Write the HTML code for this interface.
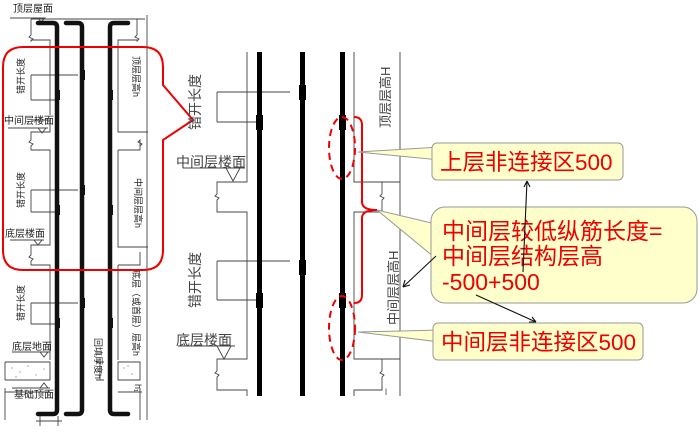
<!DOCTYPE html>
<html><head><meta charset="utf-8"><style>
html,body{margin:0;padding:0;background:#fff;}
svg{display:block;}
text{font-family:"Liberation Sans","Noto Sans CJK SC",sans-serif;}
</style></head><body>
<svg width="700" height="432" viewBox="0 0 700 432" xmlns="http://www.w3.org/2000/svg">
<g fill="none" stroke="#444" stroke-width="0.9">
  <path d="M31 19 H145"/>
  <path d="M31 19 V35 l-2 2 l4 2 l-2 2 V40 H50 V115"/>
  <path d="M137 19 V35 l-2 2 l4 2 l-2 2 V40 H118 V132 H148"/>
  <path d="M31 120 H50 V132 H31 V140 l-2 2 l4 2 l-2 2 V150 H50 V245 H31 V255 l-2 2 l4 2 l-2 2 V265 H50 V360"/>
  <path d="M118 150 H140 V140 l-2 2 l4 2 l-2 2 M118 150 V247 H148 M118 265 V360"/>
  <path d="M118 265 H140 V252"/>
  <path d="M147 15 V420"/>
  <path d="M31 75 V100 M31 75 H78 M31 100 H55"/>
  <path d="M31 190 V212 M31 190 H78 M31 212 H55"/>
  <path d="M31 303 V324 M31 303 H78 M31 324 H55"/>
  <path d="M5 362 H50 V380 H5 M5 362 V380"/>
  <path d="M118 362 H140 V380 H118 Z"/>
  <path d="M100 362 V380 M96 362 H104 M96 380 H104"/>
  <path d="M5 388 V420 M5 392 H50 M140 388 V420 M118 392 H142"/>
  <path d="M36 421 H62 M40 416 V426 M58 416 V426"/>
  <path d="M10 18 H45 L41 22 L38 18 M8 128 H48 M10 240 H44 M12 352 H50 M12 388 H50"/>
  <path d="M38 128 l4 5 l4 -5 M34 240 l4 5 l4 -5 M40 352 l4 5 l4 -5 M40 388 l4 -5 l4 5"/>
  <path d="M247 52 V182 H217 V194 l-2 2 l4 2 l-2 2 V212 H247 V359 H217 V371 l-2 2 l4 2 l-2 2 V390 H247 V396"/>
  <path d="M354 52 V182 H400 M382 182 V194 l-2 2 l4 2 l-2 2 V212 H354 V359 H400 M382 359 V371 l-2 2 l4 2 l-2 2 V390 H354 V396"/>
  <path d="M400 52 V396"/>
  <path d="M217 92 V122 M217 92 H290 M217 122 H259"/>
  <path d="M217 261 V300 M217 261 H290 M217 300 H259"/>
  <path d="M183 168 H245 M226 168 l7 13 l7 -13"/>
  <path d="M178 346 H235 M217 346 l7 13 l7 -13"/>
</g>
<g fill="#777">
  <circle cx="12" cy="368" r="0.6"/><circle cx="20" cy="372" r="0.6"/><circle cx="28" cy="366" r="0.6"/><circle cx="36" cy="375" r="0.6"/><circle cx="44" cy="369" r="0.6"/><circle cx="16" cy="377" r="0.6"/>
  <circle cx="124" cy="368" r="0.6"/><circle cx="132" cy="374" r="0.6"/><circle cx="128" cy="366" r="0.6"/>
</g>
<g fill="none" stroke="#111" stroke-width="4.5" stroke-linecap="round">
  <path d="M38 23 H53 Q57 23 57 27 V410 Q57 414 53 414 H38"/>
  <path d="M66 23 H78 Q82 23 82 27 V410 Q82 414 78 414 H66"/>
  <path d="M128 23 H114 Q110 23 110 27 V410 Q110 414 114 414 H128"/>
</g>
<g fill="#111">
  <rect x="55" y="90" width="5" height="10"/><rect x="80" y="70" width="5" height="10"/><rect x="108" y="90" width="5" height="10"/>
  <rect x="55" y="205" width="5" height="10"/><rect x="80" y="185" width="5" height="10"/><rect x="108" y="205" width="5" height="10"/>
  <rect x="55" y="318" width="5" height="10"/><rect x="80" y="298" width="5" height="10"/><rect x="108" y="318" width="5" height="10"/>
</g>
<g font-size="10" fill="#222">
  <text x="13" y="12">顶层屋面</text>
  <text x="4" y="124">中间层楼面</text>
  <text x="5" y="237">底层楼面</text>
  <text x="12" y="350">底层地面</text>
  <text x="14" y="398">基础顶面</text>
</g>
<g font-size="9" fill="#222">
  <text transform="translate(24,94) rotate(-90)">错开长度</text>
  <text transform="translate(24,208) rotate(-90)">错开长度</text>
  <text transform="translate(24,321) rotate(-90)">错开长度</text>
  <text transform="translate(133,56) rotate(90)">顶层层高h</text>
  <text transform="translate(135,178) rotate(90)">中间层层高h</text>
  <text transform="translate(133,270) rotate(90)">底层（或首层）层高h</text>
  <text transform="translate(95,338) rotate(90)">回填厚度h</text>
  <text transform="translate(135,384) rotate(90)">h₁</text>
</g>
<path d="M23 47 H143 Q163 47 163 67 V85 L193 120 L163 140 V250 Q163 270 143 270 H23 Q3 270 3 250 V67 Q3 47 23 47 Z" fill="none" stroke="#e00" stroke-width="2"/>
<g fill="#000">
  <rect x="257" y="52" width="5" height="344"/>
  <rect x="300" y="52" width="5" height="344"/>
  <rect x="340" y="52" width="5" height="344"/>
  <rect x="256" y="115" width="7" height="15"/><rect x="299" y="85" width="7" height="15"/><rect x="339" y="115" width="7" height="15"/>
  <rect x="256" y="293" width="7" height="15"/><rect x="299" y="260" width="7" height="15"/><rect x="339" y="293" width="7" height="15"/>
</g>
<g fill="#444">
  <text font-size="14" transform="translate(200,130) rotate(-90)" font-family="Liberation Serif,Noto Serif CJK SC,serif">错开长度</text>
  <text font-size="14" transform="translate(200,308) rotate(-90)" font-family="Liberation Serif,Noto Serif CJK SC,serif">错开长度</text>
  <text font-size="14" x="176" y="167" font-family="Liberation Serif,Noto Serif CJK SC,serif">中间层楼面</text>
  <text font-size="14" x="176" y="345" font-family="Liberation Serif,Noto Serif CJK SC,serif">底层楼面</text>
  <text font-size="13" transform="translate(390,128) rotate(-90)" font-family="Liberation Serif,Noto Serif CJK SC,serif">顶层层高H</text>
  <text font-size="13" transform="translate(398,325) rotate(-90)" font-family="Liberation Serif,Noto Serif CJK SC,serif">中间层层高H</text>
  <text font-size="9" x="385" y="395">l</text>
</g>
<g fill="none" stroke="#e00" stroke-width="2">
  <ellipse cx="342" cy="148" rx="13" ry="31" stroke-dasharray="7,5"/>
  <ellipse cx="342" cy="328" rx="13" ry="32" stroke-dasharray="7,5"/>
  <path d="M354 117 Q362 117 362 125 V202 Q362 210 377 210 Q362 210 362 218 V295 Q362 303 354 303"/>
</g>
<g fill="#ffffcc" stroke="#999" stroke-width="1">
  <path d="M358 152 L440 147 L440 160 Z"/>
  <path d="M377 210 L440 225 L440 262 Z"/>
  <path d="M358 332 L440 330 L440 342 Z"/>
  <rect x="432" y="143" width="191" height="37" rx="5"/>
  <rect x="431" y="207" width="266" height="96" rx="14"/>
  <rect x="433" y="323" width="210" height="37" rx="5"/>
</g>
<g fill="#e00">
  <text x="440" y="170" font-size="22.5">上层非连接区500</text>
  <text x="442" y="239" font-size="23">中间层较低纵筋长度=</text>
  <text x="442" y="264" font-size="23">中间层结构层高</text>
  <text x="442" y="290" font-size="23">-500+500</text>
  <text x="441" y="350" font-size="22.5">中间层非连接区500</text>
</g>
<g stroke="#111" stroke-width="1.1" fill="none">
  <path d="M436 256 L403 287 M403 287 l2 -7 M403 287 l7 -2"/>
  <path d="M523 272 L527 181 M527 181 l-3 6 M527 181 l3 6"/>
  <path d="M476 295 L536 322 M536 322 l-7 0 M536 322 l-4 -5"/>
</g>
</svg>
</body></html>
